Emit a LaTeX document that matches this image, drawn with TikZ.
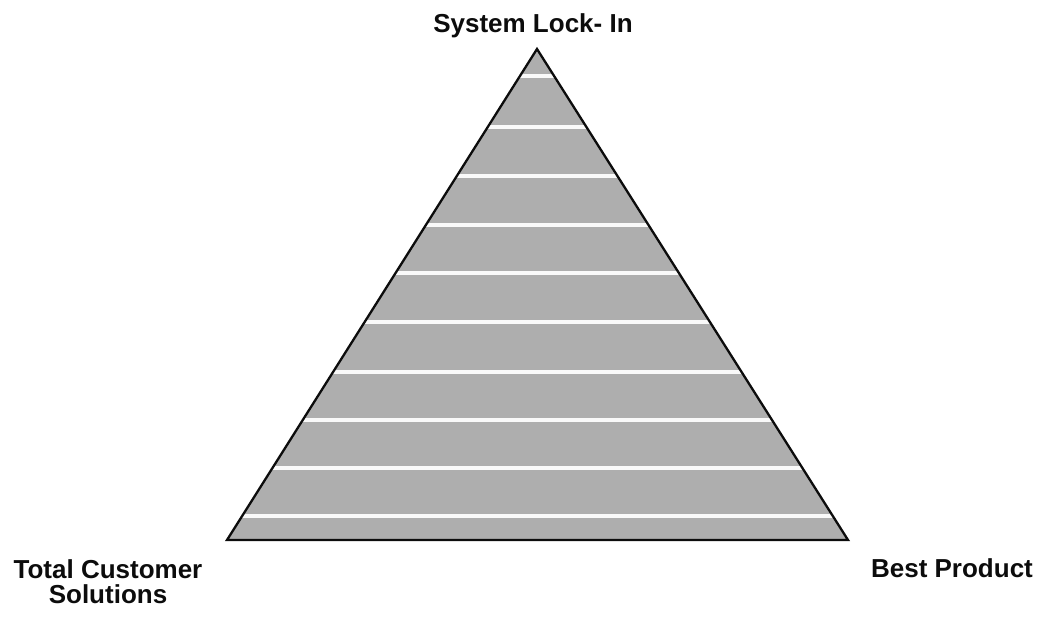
\documentclass[tikz,border=0pt]{standalone}
\usepackage{fontspec}
\setmainfont{Liberation Sans}
\usepackage{xcolor}
\usetikzlibrary{positioning}
\definecolor{pyShade}{RGB}{174,174,174}
\definecolor{pyInk}{RGB}{12,12,12}

\begin{document}
\begin{tikzpicture}[x=1pt,y=-1pt,
  cornerlabel/.style={font=\fontsize{26}{25}\selectfont\bfseries,text=pyInk,
    inner sep=0pt,align=center,anchor=base}]
  \useasboundingbox (0,0) rectangle (1041,617);
  \coordinate (apex) at (537,49);
  \coordinate (left) at (227,540);
  \coordinate (right) at (848,540);
  \fill[pyShade] (apex) -- (left) -- (right) -- cycle;
  \begin{scope}
    \clip (apex) -- (left) -- (right) -- cycle;
    \foreach \y in {76,127,176,225,273,322,372,420,468,516}{
      \draw[white!92!pyShade,line width=3.6pt] (200,\y) -- (880,\y);
    }
  \end{scope}
  \draw[pyInk,line width=2.3pt,line join=miter] (apex) -- (left) -- (right) -- cycle;
  \node[cornerlabel] (lockin) at (533,33) {System Lock- In};
  \node[cornerlabel] (solutions) at (108,603) {Total Customer\\Solutions};
  \node[cornerlabel] (product) at (952,577) {Best Product};
\end{tikzpicture}
\end{document}
